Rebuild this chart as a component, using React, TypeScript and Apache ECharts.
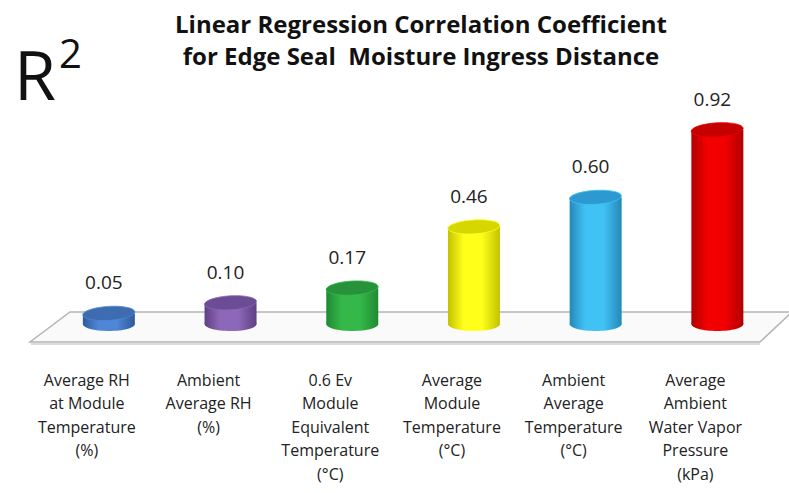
import React, { useEffect, useRef } from "react";
import * as echarts from "echarts";

const categories = [
  "Average RH\nat Module\nTemperature\n(%)",
  "Ambient\nAverage RH\n(%)",
  "0.6 Ev\nModule\nEquivalent\nTemperature\n(°C)",
  "Average\nModule\nTemperature\n(°C)",
  "Ambient\nAverage\nTemperature\n(°C)",
  "Average\nAmbient\nWater Vapor\nPressure\n(kPa)",
];
const values = [0.05, 0.1, 0.17, 0.46, 0.6, 0.92];
const baseColors = ["#4f86d6", "#8d68b8", "#35b84a", "#ffff1a", "#41c2f5", "#f20000"];
const edgeColors = ["#2f5a9a", "#5e3f84", "#1f8a32", "#c2c200", "#2588b8", "#b00000"];
const topColors = ["#3d6cb0", "#6c4c94", "#27923a", "#d6d600", "#2c9ad0", "#c40000"];

export default function App() {
  const ref = useRef<HTMLDivElement>(null);
  useEffect(() => {
    document.body.style.margin = "0";
    if (!ref.current) return;
    const chart = echarts.init(ref.current, null, { renderer: "svg" });
    const font = "'Open Sans', 'Noto Sans', sans-serif";
    chart.setOption({
      animation: false,
      backgroundColor: "#ffffff",
      title: {
        text: "Linear Regression Correlation Coefficient\nfor Edge Seal  Moisture Ingress Distance",
        left: 416,
        top: 2,
        textAlign: "center",
        textStyle: {
          fontFamily: font,
          fontSize: 24,
          fontWeight: "bold",
          color: "#111",
          lineHeight: 32,
        },
      },
      graphic: [
        {
          type: "polygon",
          z: 0,
          shape: { points: [[70, 312], [792, 312], [760, 342], [30, 342]] },
          style: { fill: "#fafafa", stroke: "#b4b4b4", lineWidth: 1.5 },
        },
        {
          type: "line",
          z: 0,
          shape: { x1: 31, y1: 344, x2: 760, y2: 344 },
          style: { stroke: "#dcdcdc", lineWidth: 2 },
        },
        {
          type: "text",
          left: 14,
          top: 39,
          style: { text: "R", font: `68px ${font}`, fill: "#111" },
        },
        {
          type: "text",
          left: 59,
          top: 32,
          style: { text: "2", font: `40px ${font}`, fill: "#111" },
        },
      ],
      grid: { left: 48, right: 10, top: 113, bottom: 169 },
      xAxis: {
        type: "category",
        data: categories,
        axisLine: { show: false },
        axisTick: { show: false },
        axisLabel: {
          interval: 0,
          margin: 44,
          fontFamily: font,
          fontSize: 16,
          lineHeight: 23.5,
          color: "#222",
          align: "center",
          verticalAlign: "top",
          padding: [0, 44, 0, 0],
        },
      },
      yAxis: {
        type: "value",
        min: 0,
        max: 1,
        show: false,
        splitLine: { show: false },
      },
      series: [
        {
          type: "custom",
          data: values,
          z: 5,
          renderItem: (params: any, api: any) => {
            const i = params.dataIndex;
            const v = api.value(1);
            const top = api.coord([api.value(0), v]);
            const bot = api.coord([api.value(0), 0]);
            const w = 52;
            const rx = w / 2;
            const ry = 7;
            const cx = top[0];
            const grad = new echarts.graphic.LinearGradient(0, 0, 1, 0, [
              { offset: 0, color: edgeColors[i] },
              { offset: 0.3, color: baseColors[i] },
              { offset: 0.65, color: baseColors[i] },
              { offset: 1, color: edgeColors[i] },
            ]);
            return {
              type: "group",
              children: [
                {
                  type: "ellipse",
                  shape: { cx, cy: bot[1], rx, ry },
                  style: { fill: grad },
                },
                {
                  type: "rect",
                  shape: { x: cx - rx, y: top[1], width: w, height: bot[1] - top[1] },
                  style: { fill: grad },
                },
                {
                  type: "ellipse",
                  shape: { cx, cy: top[1], rx, ry },
                  rotation: 0.06,
                  originX: cx,
                  originY: top[1],
                  style: { fill: topColors[i], stroke: baseColors[i], lineWidth: 0.8 },
                },
                {
                  type: "text",
                  x: cx - 5,
                  y: top[1] - 31,
                  style: {
                    text: v.toFixed(2),
                    font: `19px ${font}`,
                    fill: "#222",
                    align: "center",
                    verticalAlign: "middle",
                  },
                },
              ],
            };
          },
        },
      ],
    });
    return () => chart.dispose();
  }, []);
  return <div ref={ref} style={{ width: 789, height: 493 }} />;
}
